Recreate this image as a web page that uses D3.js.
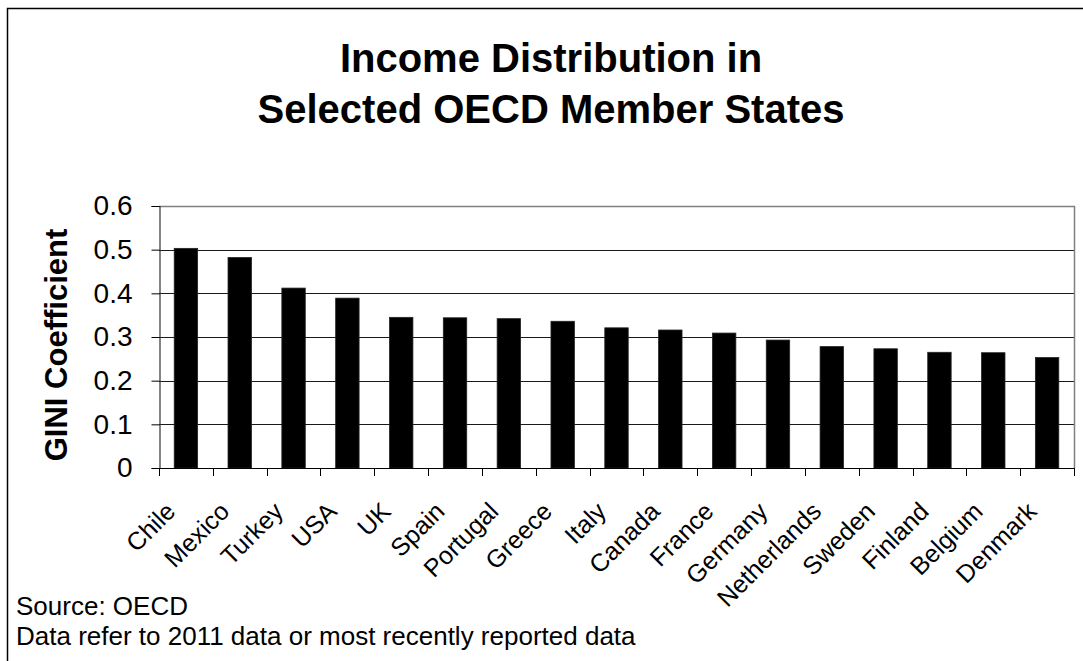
<!DOCTYPE html>
<html>
<head>
<meta charset="utf-8">
<script src="https://cdn.jsdelivr.net/npm/d3@7/dist/d3.min.js"></script>
<style>
  html, body { margin: 0; padding: 0; background: #fff; }
  svg { display: block; font-family: "Liberation Sans", Arial, sans-serif; }
</style>
</head>
<body>
<svg id="chart" width="1083" height="661"></svg>
<script>
const categories = ["Chile","Mexico","Turkey","USA","UK","Spain","Portugal","Greece","Italy","Canada","France","Germany","Netherlands","Sweden","Finland","Belgium","Denmark"];
const giniValues = [0.503,0.482,0.412,0.389,0.345,0.344,0.342,0.336,0.321,0.316,0.309,0.293,0.278,0.273,0.265,0.264,0.253];
const yTickValues = [0,0.1,0.2,0.3,0.4,0.5,0.6];
const yTickLabels = ["0","0.1","0.2","0.3","0.4","0.5","0.6"];
const titleLines = ["Income Distribution in","Selected OECD Member States"];
const yAxisTitle = "GINI Coefficient";
const footnotes = ["Source: OECD","Data refer to 2011 data or most recently reported data"];

const svg = d3.select("#chart");
const W = 1083, H = 661;
const plot = {left: 159, right: 1074, top: 206, bottom: 468};
const FONT = "'Liberation Sans', Arial, sans-serif";

// outer chart border (runs past the right/bottom edge)
svg.append("rect")
  .attr("x", 7.5).attr("y", 8.5)
  .attr("width", W + 10).attr("height", H + 10)
  .attr("fill", "#fff").attr("stroke", "#000").attr("stroke-width", 1.5);

const x = d3.scaleBand().domain(categories).range([plot.left, plot.right])
  .paddingInner(0.565).paddingOuter(0.2825);
const y = d3.scaleLinear().domain([0, 0.6]).range([plot.bottom, plot.top]);

// gridlines
svg.append("g").selectAll("line")
  .data(yTickValues.filter(v => v > 0 && v < 0.6))
  .join("line")
  .attr("x1", plot.left).attr("x2", plot.right)
  .attr("y1", d => Math.round(y(d)) + 0.5).attr("y2", d => Math.round(y(d)) + 0.5)
  .attr("stroke", "#1a1a1a").attr("stroke-width", 1);

// plot frame top & right (grey)
svg.append("path")
  .attr("d", `M${plot.left},${Math.round(y(0.6)) + 0.5}H${plot.right + 0.5}V${plot.bottom}`)
  .attr("fill", "none").attr("stroke", "#808080").attr("stroke-width", 1.5);

// bars
svg.append("g").selectAll("rect")
  .data(categories.map((c, i) => ({c, v: giniValues[i]})))
  .join("rect")
  .attr("x", d => x(d.c))
  .attr("width", x.bandwidth())
  .attr("y", d => y(d.v))
  .attr("height", d => y(0) - y(d.v))
  .attr("fill", "#000")
  .attr("stroke", "#222").attr("stroke-width", 0.8);

// y axis
const yAxis = svg.append("g")
  .attr("transform", `translate(${plot.left + 0.5},0)`)
  .call(d3.axisLeft(y).tickValues(yTickValues).tickSize(8).tickPadding(19)
    .tickFormat((d, i) => yTickLabels[i]));
yAxis.select(".domain").attr("stroke", "#333").attr("stroke-width", 1.2);
yAxis.selectAll(".tick line").attr("stroke", "#000");
yAxis.selectAll(".tick text")
  .attr("font-size", 28).attr("fill", "#000")
  .attr("font-family", FONT);

// x axis baseline and boundary ticks
const step = x.step();
const x0 = x.range()[0];
svg.append("line")
  .attr("x1", plot.left).attr("x2", plot.right)
  .attr("y1", plot.bottom + 0.5).attr("y2", plot.bottom + 0.5)
  .attr("stroke", "#000").attr("stroke-width", 1.2);
svg.append("g").selectAll("line")
  .data(d3.range(categories.length + 1))
  .join("line")
  .attr("x1", i => Math.round(x0 + i * step) + 0.5)
  .attr("x2", i => Math.round(x0 + i * step) + 0.5)
  .attr("y1", plot.bottom).attr("y2", plot.bottom + 8)
  .attr("stroke", "#000");

// x labels rotated 45 degrees
const xAxis = svg.append("g")
  .attr("transform", `translate(0,${plot.bottom})`)
  .call(d3.axisBottom(x).tickSize(0).tickPadding(0));
xAxis.select(".domain").remove();
xAxis.selectAll(".tick text")
  .attr("font-size", 25).attr("fill", "#000")
  .attr("font-family", FONT)
  .attr("text-anchor", "end")
  .attr("dy", null).attr("y", 0)
  .attr("transform", "translate(-9,45) rotate(-45)");

// title
svg.append("g").selectAll("text")
  .data(titleLines)
  .join("text")
  .attr("x", 551).attr("y", (d, i) => 72 + i * 51)
  .attr("text-anchor", "middle")
  .attr("font-size", 40).attr("font-weight", "bold").attr("fill", "#000")
  .text(d => d);

// y axis title
svg.append("text")
  .attr("transform", `translate(67,345) rotate(-90)`)
  .attr("text-anchor", "middle")
  .attr("font-size", 31).attr("font-weight", "bold").attr("fill", "#000")
  .text(yAxisTitle);

// footnotes
svg.append("g").selectAll("text")
  .data(footnotes)
  .join("text")
  .attr("x", 16).attr("y", (d, i) => 615 + i * 30)
  .attr("font-size", 26).attr("fill", "#000")
  .text(d => d);
</script>
</body>
</html>
